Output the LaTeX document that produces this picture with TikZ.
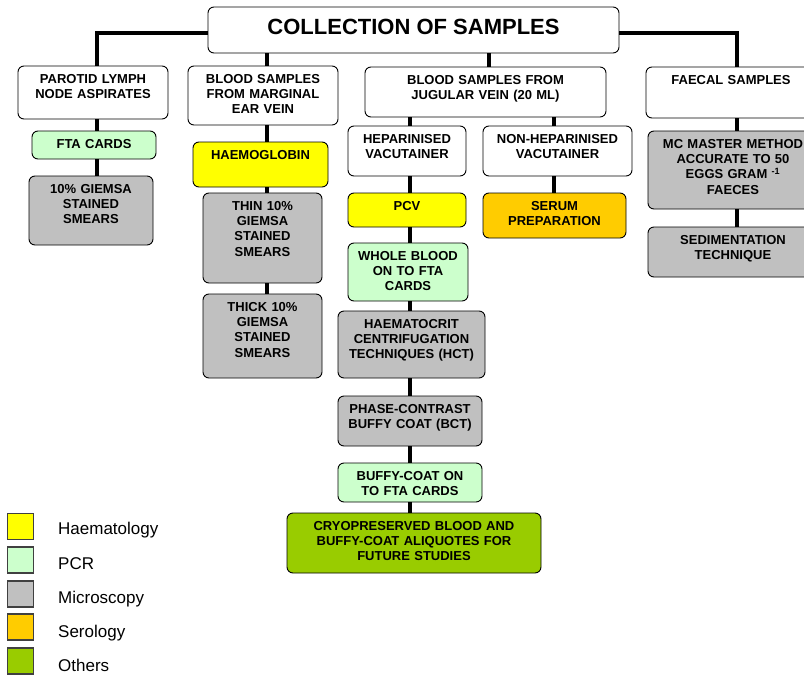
\documentclass[tikz,border=0pt]{standalone}
\usepackage{fontspec}
\setmainfont{Liberation Sans}
\definecolor{haecol}{HTML}{FFFF00}
\definecolor{pcrcol}{HTML}{CCFFCC}
\definecolor{miccol}{HTML}{C0C0C0}
\definecolor{sercol}{HTML}{FFCC00}
\definecolor{othcol}{HTML}{99CC00}
\tikzset{
  boxstyle/.style={draw=black, line width=0.9pt, rounded corners=6pt, inner sep=0pt},
  boxtext/.style={font=\fontsize{13}{15.3}\selectfont\bfseries, align=center, text width=240pt, anchor=base, inner sep=0pt},
  conn/.style={line width=3.4pt, black},
  legsq/.style={draw=black!75, line width=1.3pt, minimum size=26pt, inner sep=0pt},
  legtxt/.style={font=\fontsize{17}{20}\selectfont, anchor=base west, inner sep=0pt},
}
\newcommand\mybox[7]{%
  \node[boxstyle, fill=#6, minimum width={#4-#2}, minimum height={#5-#3}] (#1) at ({(#2+#4)/2},{(#3+#5)/2}) {};
  \node[boxtext] (#1t) at ([yshift=-17.8pt]#1.north) {#7};
}
\begin{document}
\begin{tikzpicture}[x=1pt,y=-1pt]
\useasboundingbox (0,0) rectangle (804,675);
\clip (0,0) rectangle (804,675);
% boxes
\node[boxstyle, fill=white, minimum width=411, minimum height=46] (title) at (413.5,30) {};
\node[font=\fontsize{22}{26}\selectfont\bfseries, anchor=base, inner sep=0pt] (titlet) at ([yshift=-28pt]title.north) {COLLECTION OF SAMPLES};
\mybox{par}{18}{66}{168}{119}{white}{PAROTID LYMPH\\NODE ASPIRATES}
\mybox{mar}{188}{66}{338}{125}{white}{BLOOD SAMPLES\\FROM MARGINAL\\EAR VEIN}
\mybox{jug}{365}{67}{606}{117}{white}{BLOOD SAMPLES FROM\\JUGULAR VEIN (20 ML)}
\mybox{fae}{646}{67}{816}{118}{white}{FAECAL SAMPLES}
\mybox{fta}{32}{131}{156}{159}{pcrcol}{FTA CARDS}
\mybox{gie}{29}{176}{153}{245}{miccol}{10\% GIEMSA\\STAINED\\SMEARS}
\mybox{hae}{193}{142}{328}{187}{haecol}{HAEMOGLOBIN}
\mybox{thin}{203}{193}{322}{283}{miccol}{THIN 10\%\\GIEMSA\\STAINED\\SMEARS}
\mybox{thick}{203}{294}{322}{378}{miccol}{THICK 10\%\\GIEMSA\\STAINED\\SMEARS}
\mybox{hep}{348}{126}{466}{176}{white}{HEPARINISED\\VACUTAINER}
\mybox{nonhep}{483}{126}{632}{176}{white}{NON-HEPARINISED\\VACUTAINER}
\mybox{pcv}{348}{193}{466}{227}{haecol}{PCV}
\mybox{serum}{483}{193}{626}{238}{sercol}{SERUM\\PREPARATION}
\mybox{whole}{348}{243}{468}{301}{pcrcol}{WHOLE BLOOD\\ON TO FTA\\CARDS}
\mybox{hct}{338}{311}{485}{378}{miccol}{HAEMATOCRIT\\CENTRIFUGATION\\TECHNIQUES (HCT)}
\mybox{bct}{338}{396}{482}{446}{miccol}{PHASE-CONTRAST\\BUFFY COAT (BCT)}
\mybox{buffy}{338}{463}{482}{502}{pcrcol}{BUFFY-COAT ON\\TO FTA CARDS}
\mybox{cryo}{287}{513}{541}{573}{othcol}{CRYOPRESERVED BLOOD AND\\BUFFY-COAT ALIQUOTES FOR\\FUTURE STUDIES}
\mybox{mc}{648}{131}{818}{209}{miccol}{MC MASTER METHOD\\ACCURATE TO 50\\EGGS GRAM \textsuperscript{-1}\\FAECES}
\mybox{sed}{648}{227}{818}{277}{miccol}{SEDIMENTATION\\TECHNIQUE}
% connector columns
\coordinate (c97) at (97,0);
\coordinate (c267) at (267,0);
\coordinate (c489) at (489,0);
\coordinate (c410) at (410,0);
\coordinate (c554) at (554,0);
\coordinate (c737) at (737,0);
% connectors
\draw[conn] ([yshift=-3pt]title.west) -| (par.north -| c97);
\draw[conn] ([yshift=-3pt]title.east) -| (fae.north -| c737);
\draw[conn] (title.south -| c267) -- (mar.north -| c267);
\draw[conn] (title.south -| c489) -- (jug.north -| c489);
\draw[conn] (par.south -| c97) -- (fta.north -| c97);
\draw[conn] (fta.south -| c97) -- (gie.north -| c97);
\draw[conn] (mar.south -| c267) -- (hae.north -| c267);
\draw[conn] (hae.south -| c267) -- (thin.north -| c267);
\draw[conn] (thin.south -| c267) -- (thick.north -| c267);
\draw[conn] (jug.south -| c410) -- (hep.north -| c410);
\draw[conn] (jug.south -| c554) -- (nonhep.north -| c554);
\draw[conn] (nonhep.south -| c554) -- (serum.north -| c554);
\draw[conn] (hep.south -| c410) -- (pcv.north -| c410);
\draw[conn] (pcv.south -| c410) -- (whole.north -| c410);
\draw[conn] (whole.south -| c410) -- (hct.north -| c410);
\draw[conn] (hct.south -| c410) -- (bct.north -| c410);
\draw[conn] (bct.south -| c410) -- (buffy.north -| c410);
\draw[conn] (buffy.south -| c410) -- (cryo.north -| c410);
\draw[conn] (fae.south -| c737) -- (mc.north -| c737);
\draw[conn] (mc.south -| c737) -- (sed.north -| c737);
% legend
\node[legsq, fill=haecol] (l1) at (20.5,526.5) {};
\node[legsq, fill=pcrcol] (l2) at (20.5,560) {};
\node[legsq, fill=miccol] (l3) at (20.5,594) {};
\node[legsq, fill=sercol] (l4) at (20.5,627) {};
\node[legsq, fill=othcol] (l5) at (20.5,661) {};
\node[legtxt] (t1) at (58,534) {Haematology};
\node[legtxt] (t2) at (58,569) {PCR};
\node[legtxt] (t3) at (58,603) {Microscopy};
\node[legtxt] (t4) at (58,637) {Serology};
\node[legtxt] (t5) at (58,671) {Others};
\end{tikzpicture}
\end{document}
